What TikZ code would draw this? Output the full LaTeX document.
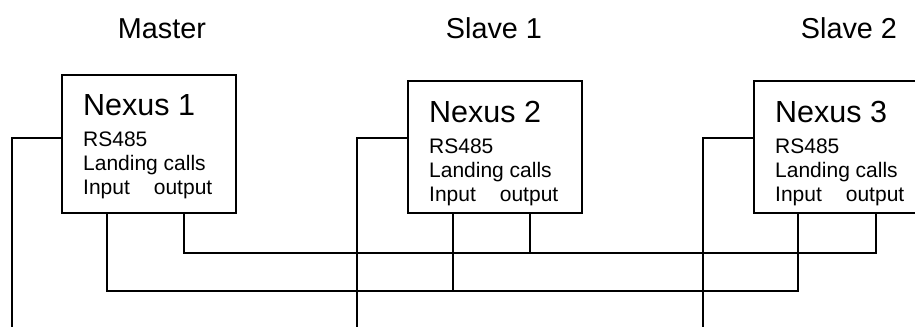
\documentclass[tikz,border=0pt]{standalone}
\usepackage{fontspec}
\setmainfont{Liberation Sans}
\tikzset{nexusbox/.style={draw, line width=1.8pt, minimum width=174pt, minimum height=132pt, inner sep=0pt, anchor=south west}}
\tikzset{boxtext/.style={align=left, inner sep=0pt, anchor=north west, font=\fontsize{21}{24}\selectfont}}
\tikzset{role/.style={anchor=base, font=\fontsize{28.8}{32}\selectfont}}
\tikzset{wire/.style={line width=1.8pt}}

\begin{document}
\begin{tikzpicture}[x=1pt, y=1pt]
        \useasboundingbox (0,0) rectangle (915,327);

        \node[role] (L1) at (162,288) {Master};
        \node[role] (L2) at (494,288) {Slave 1};
        \node[role] (L3) at (849,288) {Slave 2};

        % controller boxes
        \node[nexusbox, minimum height=138pt] (N1) at (61,113) {};
        \node[nexusbox] (N2) at (407,113) {};
        \node[nexusbox] (N3) at (753,113) {};

        \node[boxtext] (T1) at ([shift={(22,-20)}]N1.north west)
        {{\fontsize{30.5}{36}\selectfont Nexus 1}\\[7pt] RS485\\ Landing calls\\ Input\hspace{24pt}output};
        \node[boxtext] (T2) at ([shift={(22,-21)}]N2.north west)
        {{\fontsize{30.5}{36}\selectfont Nexus 2}\\[7pt] RS485\\ Landing calls\\ Input\hspace{24pt}output};
        \node[boxtext] (T3) at ([shift={(22,-21)}]N3.north west)
        {{\fontsize{30.5}{36}\selectfont Nexus 3}\\[7pt] RS485\\ Landing calls\\ Input\hspace{24pt}output};

        % RS485 taps
        \coordinate (R1) at ([yshift=76]N1.south west);
        \coordinate (R2) at ([yshift=76]N2.south west);
        \coordinate (R3) at ([yshift=76]N3.south west);
        \coordinate (D1) at (12,0);
        \coordinate (D2) at (357,0);
        \coordinate (D3) at (703,0);

        \draw [wire] (R1) -| (D1);
        \draw [wire] (R2) -| (D2);
        \draw [wire] (R3) -| (D3);

        % landing call inputs and outputs
        \coordinate (I1) at ([xshift=46]N1.south west);
        \coordinate (I2) at ([xshift=46]N2.south west);
        \coordinate (I3) at ([xshift=45]N3.south west);
        \coordinate (O1) at ([xshift=123]N1.south west);
        \coordinate (O2) at ([xshift=123]N2.south west);
        \coordinate (O3) at ([xshift=123]N3.south west);
        \coordinate (obus) at (0,74);
        \coordinate (ibus) at (0,36);

        \draw [wire] (O1) |- (obus -| O3) -- (O3);
        \draw [wire] (O2) -- (O2 |- obus);
        \draw [wire] (I1) |- (ibus -| I3) -- (I3);
        \draw [wire] (I2) -- (I2 |- ibus);

\end{tikzpicture}
\end{document}
